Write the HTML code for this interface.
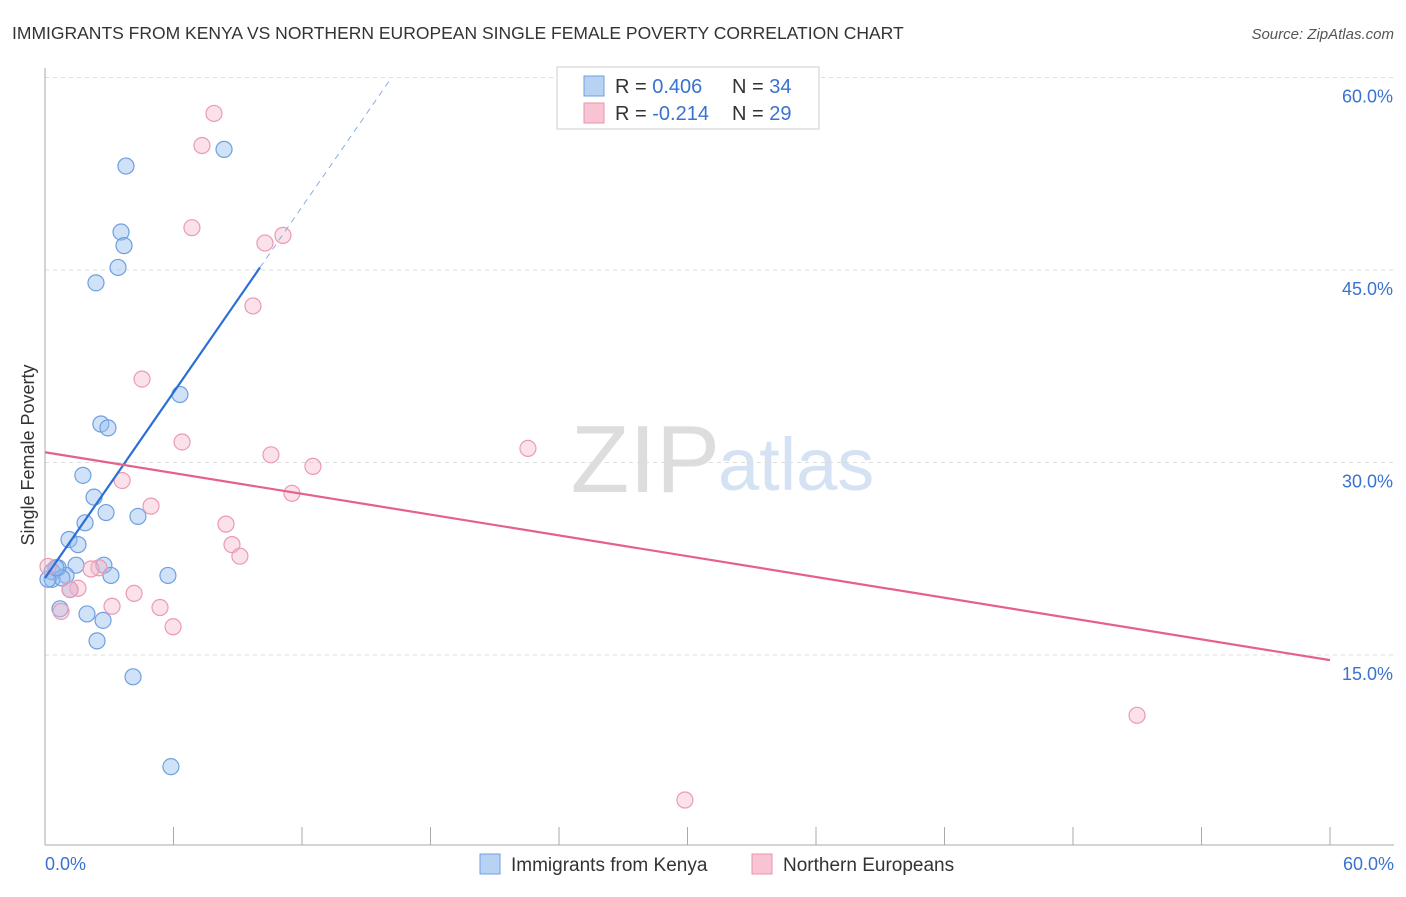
<!DOCTYPE html>
<html><head><meta charset="utf-8"><style>
body{margin:0;background:#fff;font-family:"Liberation Sans",sans-serif}
svg text{font-family:"Liberation Sans",sans-serif}
</style></head><body>
<svg id="c" width="1406" height="892">
<text x="12" y="39" font-size="17.5" fill="#333">IMMIGRANTS FROM KENYA VS NORTHERN EUROPEAN SINGLE FEMALE POVERTY CORRELATION CHART</text>
<text x="1394" y="39" font-size="15" fill="#555" font-style="italic" text-anchor="end">Source: ZipAtlas.com</text>
<text x="720" y="492" font-size="96" fill="#ddd" text-anchor="end" font-family="Liberation Serif">ZIP</text>
<text x="718" y="490" font-size="74" fill="#d5e2f3">atlas</text>
<g id="grid"></g><g id="axes"></g><g id="pts"></g><g id="lines"></g>
<text transform="translate(34,455) rotate(-90)" font-size="18" fill="#333" text-anchor="middle">Single Female Poverty</text>
<g>
<rect x="557" y="67" width="262" height="62" fill="#fff" stroke="#ccc"/>
<rect x="584" y="76" width="20" height="20" fill="#b8d2f3" stroke="#6f9fe0"/>
<rect x="584" y="103" width="20" height="20" fill="#f8c4d3" stroke="#e893ae"/>
<text x="615" y="93" font-size="20" fill="#333">R = <tspan fill="#3a72d0">0.406</tspan><tspan x="732">N = </tspan><tspan fill="#3a72d0">34</tspan></text>
<text x="615" y="120" font-size="20" fill="#333">R = <tspan fill="#3a72d0">-0.214</tspan><tspan x="732">N = </tspan><tspan fill="#3a72d0">29</tspan></text>
</g>
<g>
<rect x="480" y="854" width="20" height="20" fill="#b8d2f3" stroke="#6f9fe0"/>
<text x="511" y="871" font-size="19" fill="#333">Immigrants from Kenya</text>
<rect x="752" y="854" width="20" height="20" fill="#f8c4d3" stroke="#e893ae"/>
<text x="783" y="871" font-size="19" fill="#333">Northern Europeans</text>
</g>
</svg>
<script>
const blueX=[3.78,8.36,3.55,3.69,3.41,2.38,6.30,2.61,2.94,1.77,2.29,2.85,1.87,4.34,1.12,1.54,1.45,2.75,0.98,0.61,0.33,3.08,5.74,1.17,0.70,1.96,2.71,2.43,4.11,5.88,0.33,0.79,0.14,0.51];
const blueY=[53.1,54.4,47.96,46.9,45.2,44.0,35.3,33.0,32.7,29.0,27.3,26.1,25.3,25.8,24.0,23.6,22.0,22.0,21.2,21.8,20.9,21.2,21.2,20.1,18.6,18.2,17.7,16.1,13.3,6.3,21.5,21.0,20.9,21.8];
const pinkX=[7.89,7.33,6.86,10.27,11.11,9.71,4.53,6.40,22.55,10.55,12.51,11.53,3.60,4.95,8.45,8.73,9.10,2.52,2.15,1.54,1.17,0.75,3.13,4.16,5.37,5.98,50.99,29.88,0.14];
const pinkY=[57.2,54.7,48.3,47.1,47.7,42.2,36.5,31.6,31.1,30.6,29.7,27.6,28.6,26.6,25.2,23.6,22.7,21.8,21.7,20.2,20.1,18.4,18.8,19.8,18.7,17.2,10.3,3.7,21.9];
const yTicks=[15,30,45,60];
const yTickLabels=["15.0%","30.0%","45.0%","60.0%"];
const xTicks=[0,6,12,18,24,30,36,42,48,54,60];
const blueTrend=[21.0,2.41]; // intercept, slope
const pinkTrend=[30.8,-0.27];
const blueSolidEnd=10.04;
const NS='http://www.w3.org/2000/svg';
const X=v=>45+v*1285/60, Y=v=>847.5-v*12.833;
function mk(p,t,a){const e=document.createElementNS(NS,t);for(const k in a)e.setAttribute(k,a[k]);document.getElementById(p).appendChild(e);return e;}
yTicks.forEach((t,i)=>{
 const g=mk('grid','line',{x1:45,x2:1394,y1:Y(t),y2:Y(t),stroke:'#ddd','stroke-dasharray':'4,4'});
 
 
 const l=mk('grid','text',{x:1393,y:Y(t)+25,'font-size':18,fill:'#3a72d0','text-anchor':'end'});
 l.textContent=yTickLabels[i];
 
 
});
const ax=mk('axes','line',{x1:45,x2:45,y1:68,y2:845,stroke:'#aaa'});


const bx=mk('axes','line',{x1:45,x2:1394,y1:845,y2:845,stroke:'#aaa'});


xTicks.forEach(t=>{const k=mk('axes','line',{x1:X(t),x2:X(t),y1:827,y2:845,stroke:'#aaa'});
 
 });
const xl0=mk('axes','text',{x:45,y:870,'font-size':18,fill:'#3a72d0'});xl0.textContent='0.0%';


const xl1=mk('axes','text',{x:1394,y:870,'font-size':18,fill:'#3a72d0','text-anchor':'end'});xl1.textContent='60.0%';


blueX.forEach((x,i)=>{const c=mk('pts','circle',{cx:X(x),cy:Y(blueY[i]),r:8,fill:'rgba(150,190,240,0.45)',stroke:'#6f9fe0','stroke-width':1.2});
 
 });
pinkX.forEach((x,i)=>{const c=mk('pts','circle',{cx:X(x),cy:Y(pinkY[i]),r:8,fill:'rgba(245,180,200,0.4)',stroke:'#eb9ab5','stroke-width':1.2});
 
 });
const bEndDash=(60-blueTrend[0])/blueTrend[1];
const b1=mk('lines','line',{x1:X(0),y1:Y(blueTrend[0]),x2:X(blueSolidEnd),y2:Y(blueTrend[0]+blueTrend[1]*blueSolidEnd),stroke:'#2a6fd6','stroke-width':2.2});


const b2=mk('lines','line',{x1:X(blueSolidEnd),y1:Y(blueTrend[0]+blueTrend[1]*blueSolidEnd),x2:X(bEndDash),y2:Y(60),stroke:'#8aaee0','stroke-width':1,'stroke-dasharray':'6,5'});


const p1=mk('lines','line',{x1:X(0),y1:Y(pinkTrend[0]),x2:X(60),y2:Y(pinkTrend[0]+pinkTrend[1]*60),stroke:'#e5608f','stroke-width':2.2});


</script>
</body></html>
